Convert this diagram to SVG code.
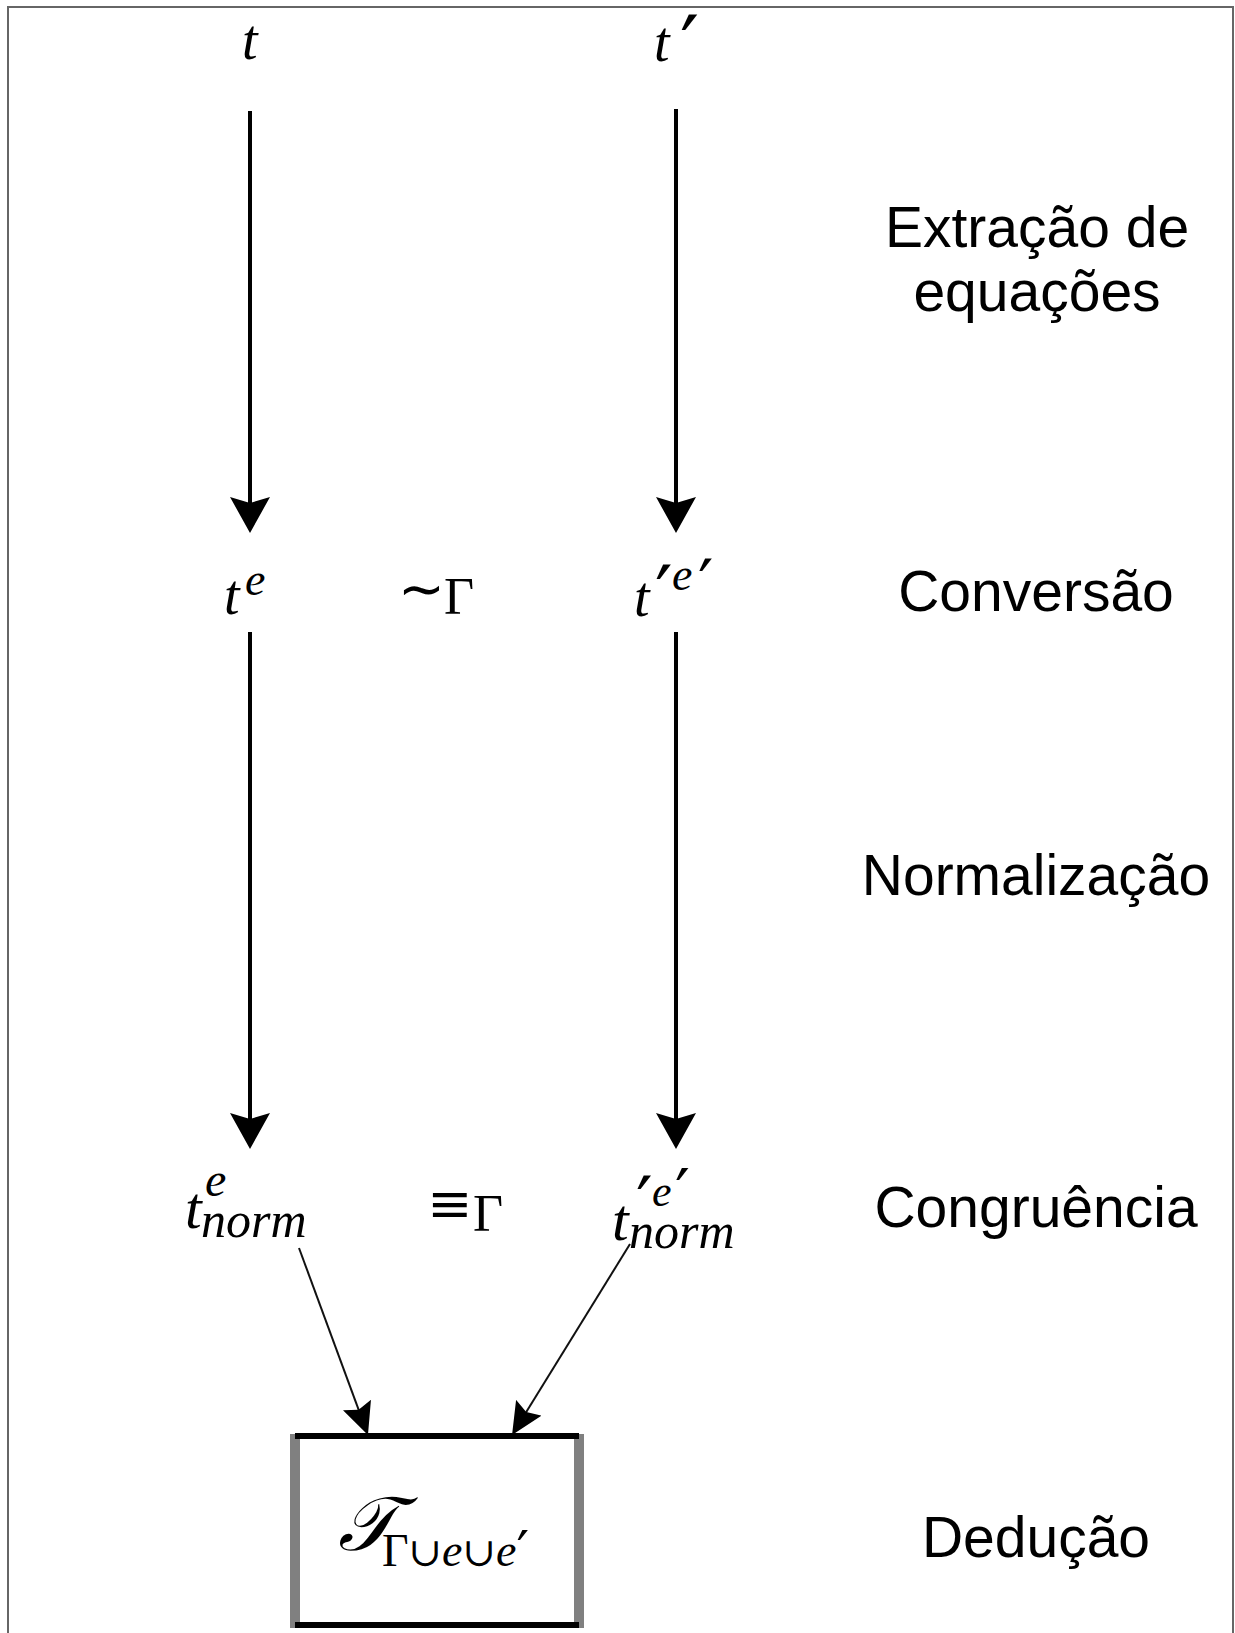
<svg xmlns="http://www.w3.org/2000/svg" width="1235" height="1633" viewBox="0 0 1235 1633">
<style>
.lbl{font-family:"Liberation Sans",Arial,sans-serif;font-size:57px;fill:#000;text-anchor:middle}
.m{font-family:"Liberation Serif","Times New Roman",serif;font-style:italic;fill:#000}
.up{font-style:normal}
.pr{font-family:"DejaVu Sans",sans-serif;font-style:normal}
.op{font-family:"DejaVu Serif",serif;font-style:normal}
.big{stroke:#000;stroke-width:4;fill:none}
.thin{stroke:#111;stroke-width:2;fill:none}
</style>
<defs>
<marker id="headL" viewBox="0 0 36 40" refX="26" refY="20" markerWidth="36" markerHeight="40" markerUnits="userSpaceOnUse" orient="auto">
<path d="M0,0 L36,20 L0,40 L6,20 Z" fill="#000"/>
</marker>
<marker id="headS" viewBox="0 0 32 30" refX="22" refY="15" markerWidth="32" markerHeight="30" markerUnits="userSpaceOnUse" orient="auto">
<path d="M0,0 L32,15 L0,30 L5,15 Z" fill="#000"/>
</marker>
</defs>
<rect width="1235" height="1633" fill="#fff"/>
<g id="frame">
<path d="M8,1633 L8,7 L1233,7 L1233,1633" fill="none" stroke="#666" stroke-width="2"/>
</g>
<g id="connectors">
<line class="big" x1="250" y1="111" x2="250" y2="523" marker-end="url(#headL)"/>
<line class="big" x1="676" y1="109" x2="676" y2="523" marker-end="url(#headL)"/>
<line class="big" x1="250" y1="632" x2="250" y2="1139" marker-end="url(#headL)"/>
<line class="big" x1="676" y1="632" x2="676" y2="1139" marker-end="url(#headL)"/>
<line class="thin" x1="299" y1="1248" x2="364.5" y2="1425.6" marker-end="url(#headS)"/>
<line class="thin" x1="630" y1="1244" x2="517.3" y2="1426.5" marker-end="url(#headS)"/>
</g>
<g id="node-t"><text class="m" x="242" y="59" font-size="56">t</text></g>
<g id="node-tp"><text class="m" x="654" y="61" font-size="56">t<tspan class="pr" font-size="85" x="680" y="77">′</tspan></text></g>
<g id="node-te"><text class="m" x="224" y="614" font-size="56">t<tspan font-size="46" x="245" y="595">e</tspan></text></g>
<g id="rel-sim"><text class="m" x="398" y="608" font-size="56"><tspan class="up">∼</tspan><tspan class="up" font-size="52" x="444" y="614">Γ</tspan></text></g>
<g id="node-tpe"><text class="m" x="634" y="616" font-size="56">t<tspan class="pr" font-size="78" x="655" y="622">′</tspan><tspan font-size="46" x="672" y="590">e</tspan><tspan class="pr" font-size="68" x="698" y="608">′</tspan></text></g>
<g id="node-tnorm"><text class="m" x="185" y="1228" font-size="60">t<tspan font-size="48" x="205" y="1196">e</tspan><tspan font-size="50" x="201" y="1237">norm</tspan></text></g>
<g id="rel-eq"><text class="m" x="427" y="1222" font-size="56"><tspan class="op" font-size="54">≡</tspan><tspan class="up" font-size="52" x="473" y="1231">Γ</tspan></text></g>
<g id="node-tpnorm"><text class="m" x="612" y="1240" font-size="60">t<tspan class="pr" font-size="74" x="636" y="1230">′</tspan><tspan font-size="44" x="652" y="1206">e</tspan><tspan class="pr" font-size="66" x="675" y="1216">′</tspan><tspan font-size="50" x="629" y="1248">norm</tspan></text></g>
<g id="node-box">
<rect x="290" y="1434" width="10" height="194" fill="#808080"/>
<rect x="574" y="1434" width="10" height="194" fill="#808080"/>
<rect x="295" y="1433" width="284" height="6" fill="#000"/>
<rect x="295" y="1622" width="284" height="6" fill="#000"/>
<text class="m" x="338" y="1550" font-size="76">𝒯<tspan class="up" font-size="46" x="382" y="1566">Γ</tspan><tspan class="op" font-size="40">∪</tspan><tspan font-size="46">e</tspan><tspan class="op" font-size="40">∪</tspan><tspan font-size="46">e</tspan><tspan class="pr" font-size="56" y="1570">′</tspan></text>
</g>
<g id="labels">
<text class="lbl" x="1037" y="247">Extração de</text>
<text class="lbl" x="1037" y="311">equações</text>
<text class="lbl" x="1036" y="611">Conversão</text>
<text class="lbl" x="1036" y="895">Normalização</text>
<text class="lbl" x="1036" y="1227">Congruência</text>
<text class="lbl" x="1036" y="1557">Dedução</text>
</g>
</svg>
